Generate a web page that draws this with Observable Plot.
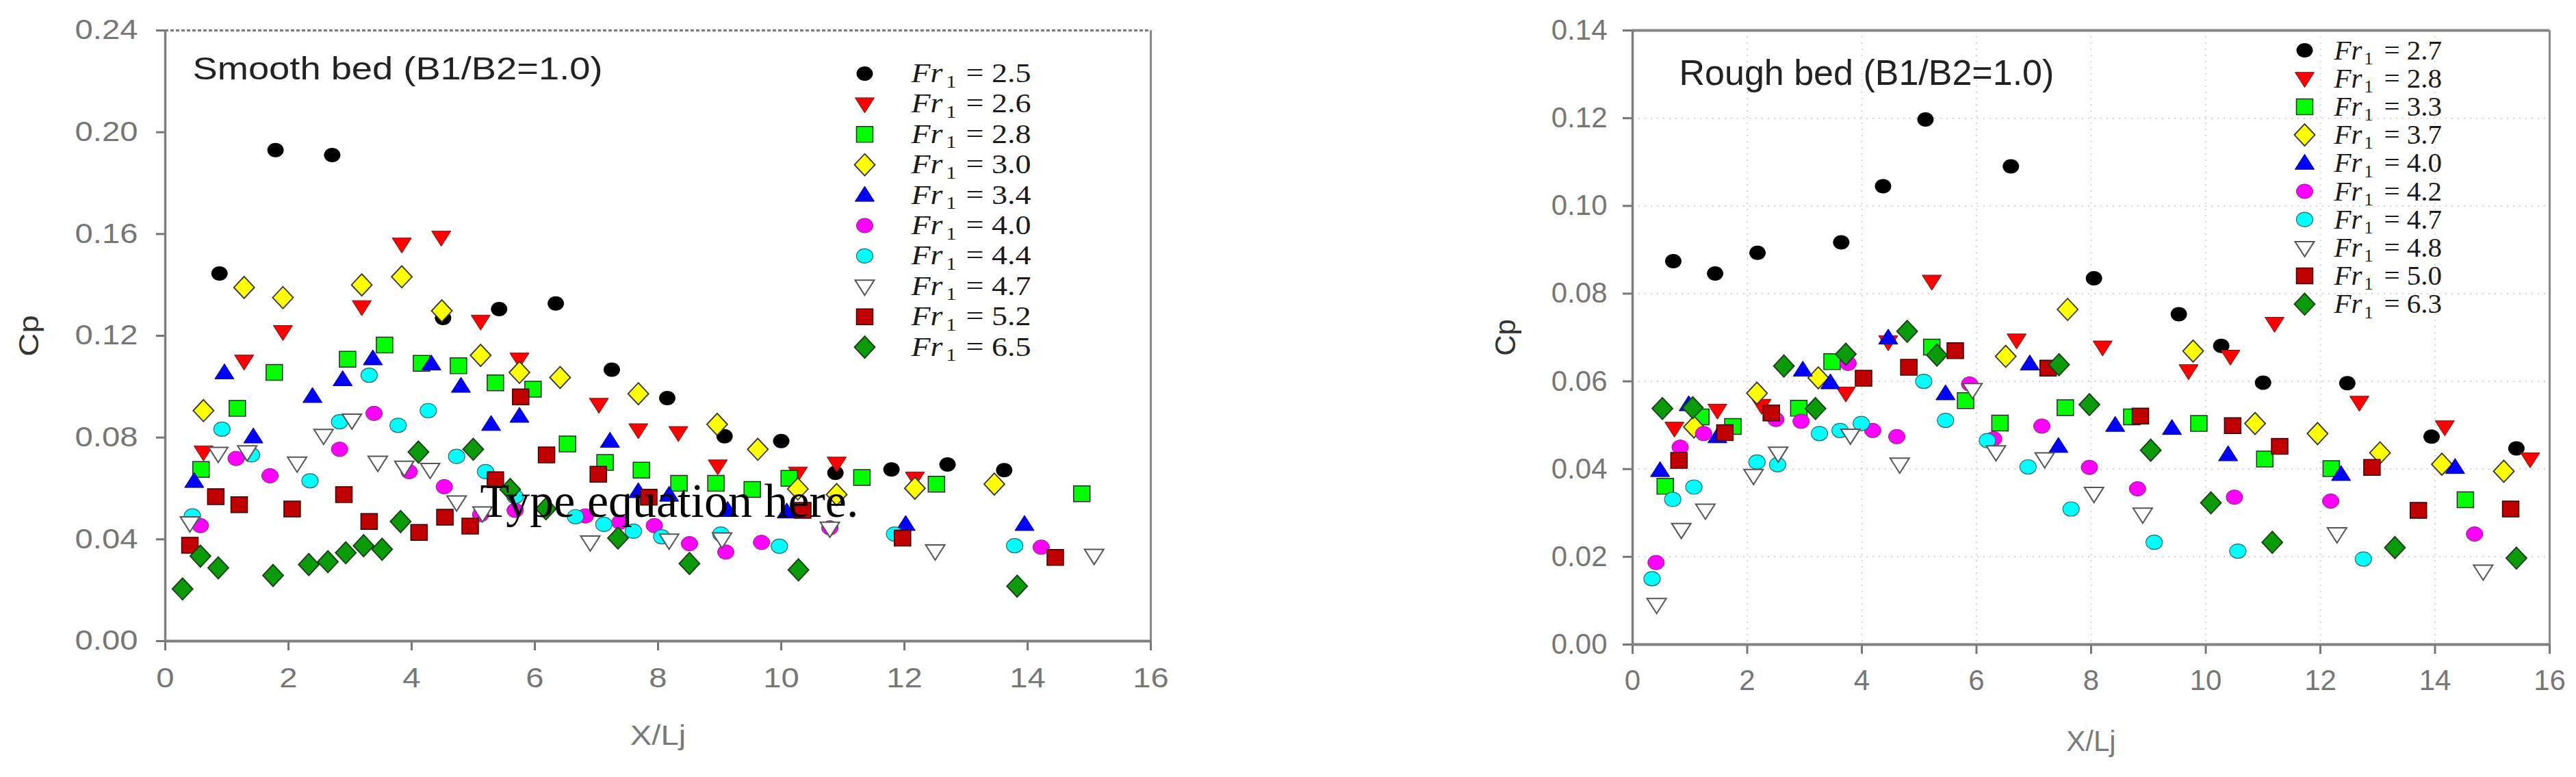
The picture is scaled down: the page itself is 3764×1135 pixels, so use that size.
<!DOCTYPE html>
<html><head><meta charset="utf-8">
<script src="https://cdn.jsdelivr.net/npm/d3@7"></script>
<script src="https://cdn.jsdelivr.net/npm/@observablehq/plot@0.6"></script>
<style>
html,body{margin:0;padding:0;background:#fff;}
body{width:3764px;height:1135px;position:relative;overflow:hidden;}
#left{position:absolute;left:0;top:0;}
#right{position:absolute;left:2000px;top:0;}
</style></head>
<body><div id="left"></div><div id="right"></div>
<script>
// ---------- data ----------
const xTicks = [0, 2, 4, 6, 8, 10, 12, 14, 16];
const smoothYTicks = [0, 0.04, 0.08, 0.12, 0.16, 0.20, 0.24];
const roughYTicks = [0, 0.02, 0.04, 0.06, 0.08, 0.10, 0.12, 0.14];

const smoothTitle = "Smooth bed (B1/B2=1.0)";
const roughTitle = "Rough bed (B1/B2=1.0)";
const xLabel = "X/Lj";
const yLabel = "Cp";
const stray = "Type equation here.";

const smoothFr = ["2.5", "2.6", "2.8", "3.0", "3.4", "4.0", "4.4", "4.7", "5.2", "6.5"];
const roughFr = ["2.7", "2.8", "3.3", "3.7", "4.0", "4.2", "4.7", "4.8", "5.0", "6.3"];

const s25 = [[0.88,0.1445],[1.79,0.193],[2.71,0.191],[4.51,0.127],[5.42,0.1305],[6.34,0.1327],[7.25,0.1067],[8.15,0.0955],[9.08,0.0805],[10.0,0.0786],[10.88,0.0661],[11.79,0.0675],[12.7,0.0694],[13.62,0.0672]];
const s26 = [[0.62,0.0743],[1.28,0.110],[1.91,0.1216],[3.19,0.1314],[3.84,0.156],[4.48,0.1587],[5.12,0.1257],[5.75,0.1108],[7.04,0.093],[7.68,0.083],[8.33,0.0819],[8.97,0.0688],[10.27,0.066],[10.9,0.0699],[12.17,0.064]];
const s28 = [[0.58,0.0675],[1.17,0.0915],[1.77,0.1056],[2.96,0.1108],[3.56,0.1164],[4.16,0.1092],[4.76,0.1082],[5.36,0.1015],[5.97,0.099],[6.53,0.0775],[7.14,0.0702],[7.73,0.0672],[8.34,0.062],[8.94,0.062],[9.53,0.0596],[10.13,0.064],[11.31,0.0643],[12.52,0.0617],[14.88,0.0579]];
const s30 = [[0.62,0.0906],[1.28,0.139],[1.91,0.135],[3.19,0.140],[3.84,0.1432],[4.49,0.1298],[5.12,0.1123],[5.75,0.1056],[6.41,0.1036],[7.68,0.0972],[8.96,0.0852],[9.62,0.0754],[10.27,0.0598],[10.9,0.0576],[12.17,0.0601],[13.46,0.0617]];
const s34 = [[0.47,0.0628],[0.96,0.1055],[1.43,0.0803],[2.39,0.0962],[2.88,0.1028],[3.37,0.111],[4.32,0.109],[4.8,0.1002],[5.29,0.0852],[5.75,0.0884],[7.22,0.0786],[7.68,0.0588],[8.18,0.0574],[9.13,0.0514],[10.09,0.0508],[12.02,0.0459],[13.95,0.0459]];
const s40 = [[0.57,0.0454],[1.15,0.0718],[1.7,0.065],[2.83,0.0754],[3.39,0.0895],[3.96,0.0666],[4.53,0.0607],[5.12,0.0497],[5.68,0.0514],[6.82,0.0492],[7.38,0.0467],[7.94,0.0454],[8.51,0.0383],[9.1,0.035],[9.68,0.0388],[10.79,0.0445],[14.22,0.0369]];
const s44 = [[0.44,0.0492],[0.92,0.0833],[1.4,0.0732],[2.35,0.063],[2.83,0.0862],[3.31,0.1045],[3.78,0.0848],[4.27,0.0906],[4.73,0.0726],[5.2,0.0666],[5.68,0.0568],[6.66,0.0489],[7.12,0.0459],[7.6,0.0432],[8.06,0.041],[9.02,0.0421],[9.97,0.0373],[11.84,0.0421],[13.79,0.0375]];
const s47 = [[0.4,0.0464],[0.86,0.0737],[1.33,0.0743],[2.14,0.0699],[2.57,0.0808],[3.03,0.0868],[3.45,0.0702],[3.88,0.0683],[4.3,0.0674],[4.73,0.0546],[5.15,0.0503],[6.9,0.0389],[8.18,0.0396],[9.04,0.0401],[10.79,0.0443],[12.5,0.0354],[15.08,0.0336]];
const s52 = [[0.4,0.0377],[0.82,0.0568],[1.2,0.0536],[2.06,0.0519],[2.9,0.0576],[3.31,0.047],[4.12,0.0427],[4.54,0.0487],[4.95,0.0452],[5.36,0.0634],[5.77,0.096],[6.19,0.0732],[7.03,0.0656],[7.85,0.0566],[10.35,0.0514],[11.97,0.0405],[14.45,0.0329]];
const s65 = [[0.28,0.0205],[0.57,0.0334],[0.86,0.0288],[1.75,0.0258],[2.33,0.0301],[2.64,0.0312],[2.93,0.0347],[3.22,0.0375],[3.52,0.0361],[3.82,0.047],[4.11,0.0743],[5.0,0.0754],[5.6,0.0596],[6.18,0.052],[7.35,0.0405],[8.51,0.0305],[10.28,0.028],[13.83,0.0216]];

const r27 = [[0.71,0.0874],[1.44,0.0846],[2.18,0.0893],[3.64,0.0917],[4.37,0.1045],[5.11,0.1197],[6.6,0.109],[8.05,0.0835],[9.53,0.0753],[10.27,0.0681],[11.0,0.0597],[12.47,0.0596],[13.94,0.0474],[15.42,0.0447]];
const r28 = [[0.73,0.0493],[1.48,0.0534],[2.25,0.0545],[3.72,0.0573],[4.46,0.069],[5.22,0.0828],[6.7,0.0694],[8.2,0.0678],[9.7,0.0624],[10.43,0.0657],[11.2,0.0732],[12.68,0.0552],[14.17,0.0496],[15.66,0.0423]];
const r33 = [[0.57,0.0361],[1.19,0.0519],[1.75,0.0497],[2.9,0.0539],[3.48,0.0645],[5.22,0.0678],[5.81,0.0556],[6.41,0.0505],[7.55,0.054],[8.71,0.0519],[9.88,0.0504],[11.03,0.0423],[12.19,0.0401],[14.53,0.033]];
const r37 = [[1.07,0.0496],[2.17,0.0573],[3.24,0.0608],[6.51,0.0657],[7.59,0.0764],[9.78,0.0669],[10.86,0.0504],[11.95,0.0481],[13.04,0.0437],[14.12,0.0411],[15.2,0.0395]];
const r40 = [[0.48,0.0397],[0.98,0.0547],[1.48,0.0474],[2.97,0.0626],[3.45,0.0597],[4.46,0.0699],[5.46,0.0572],[6.93,0.064],[7.43,0.0452],[8.42,0.05],[9.41,0.0493],[10.39,0.0433],[12.36,0.0388],[14.35,0.0404]];
const r42 = [[0.41,0.0187],[0.83,0.045],[1.24,0.0481],[2.5,0.0513],[2.94,0.0509],[3.76,0.0641],[4.19,0.0488],[4.61,0.0474],[5.88,0.0594],[6.3,0.0469],[7.14,0.0498],[7.97,0.0404],[8.81,0.0355],[10.5,0.0336],[12.18,0.0327],[14.69,0.0252]];
const r47 = [[0.34,0.015],[0.7,0.0331],[1.07,0.0359],[2.17,0.0416],[2.53,0.041],[3.26,0.0481],[3.62,0.0488],[3.99,0.0504],[5.08,0.06],[5.46,0.0511],[6.19,0.0465],[6.9,0.0405],[7.65,0.0309],[9.1,0.0233],[10.56,0.0213],[12.75,0.0195]];
const r48 = [[0.42,0.0091],[0.85,0.0262],[1.27,0.0306],[2.11,0.0385],[2.54,0.0436],[3.8,0.0477],[4.66,0.0411],[5.93,0.0581],[6.34,0.0439],[7.19,0.0423],[8.05,0.0344],[8.9,0.0297],[12.29,0.0252],[14.84,0.0167]];
const r50 = [[0.81,0.042],[1.61,0.0483],[2.42,0.0528],[4.03,0.0607],[4.82,0.0632],[5.63,0.067],[7.25,0.063],[8.86,0.0521],[10.47,0.0499],[11.29,0.0452],[12.9,0.0404],[13.71,0.0306],[15.32,0.0309]];
const r63 = [[0.52,0.0538],[1.05,0.054],[2.64,0.0635],[3.19,0.0538],[3.72,0.0662],[4.79,0.0714],[5.31,0.066],[7.44,0.0638],[7.97,0.0547],[9.04,0.0443],[10.09,0.0323],[11.16,0.0233],[13.3,0.0221],[15.42,0.0197]];

const smoothSeries = [s25, s26, s28, s30, s34, s40, s44, s47, s52, s65];
const roughSeries = [r27, r28, r33, r37, r40, r42, r47, r48, r50, r63];

// ---------- marker shapes ----------
function ellipse(rx, ry) {
  return {draw(c) {
    const kx = rx * 0.5523, ky = ry * 0.5523;
    c.moveTo(rx, 0);
    c.bezierCurveTo(rx, ky, kx, ry, 0, ry);
    c.bezierCurveTo(-kx, ry, -rx, ky, -rx, 0);
    c.bezierCurveTo(-rx, -ky, -kx, -ry, 0, -ry);
    c.bezierCurveTo(kx, -ry, rx, -ky, rx, 0);
    c.closePath();
  }};
}
function poly(pts) {
  return {draw(c) {
    c.moveTo(pts[0][0], pts[0][1]);
    for (let i = 1; i < pts.length; i++) c.lineTo(pts[i][0], pts[i][1]);
    c.closePath();
  }};
}
function shapes(k) {
  return {
    circle: ellipse(12 * k, 10.5),
    square: poly([[-12 * k, -11.5], [12 * k, -11.5], [12 * k, 11.5], [-12 * k, 11.5]]),
    up: poly([[0, -13], [14 * k, 9], [-14 * k, 9]]),
    down: poly([[0, 13], [14 * k, -9], [-14 * k, -9]]),
    diamond: poly([[0, -16], [15 * k, 0], [0, 16], [-15 * k, 0]])
  };
}
function styleSet(sh) {
  return [
    {symbol: sh.circle, fill: "#000000", stroke: "none", sw: 0},
    {symbol: sh.down, fill: "#ff0000", stroke: "#7a1010", sw: 1},
    {symbol: sh.square, fill: "#00ff00", stroke: "#2a2a2a", sw: 1.5},
    {symbol: sh.diamond, fill: "#ffff00", stroke: "#333333", sw: 1.8},
    {symbol: sh.up, fill: "#0000ff", stroke: "#000080", sw: 1},
    {symbol: sh.circle, fill: "#ff00ff", stroke: "#7a207a", sw: 1},
    {symbol: sh.circle, fill: "#00ffff", stroke: "#2a6a6a", sw: 1.2},
    {symbol: sh.down, fill: "#ffffff", stroke: "#555555", sw: 2},
    {symbol: sh.square, fill: "#c00000", stroke: "#3a0000", sw: 1.5},
    {symbol: sh.diamond, fill: "#0a9a0a", stroke: "#1a3a1a", sw: 1.8}
  ];
}

const SANS = "'Liberation Sans', Arial, sans-serif";
const SERIF = "'Liberation Serif', 'Times New Roman', serif";

function buildPanel(cfg) {
  const st = styleSet(shapes(1));
  const marks = [];
  if (cfg.grid) {
    marks.push(Plot.gridY({ticks: cfg.yTicks.slice(1, -1), stroke: "#c8c8c8", strokeOpacity: 1, strokeDasharray: "2,7", strokeWidth: 1.5}));
    marks.push(Plot.gridX({ticks: xTicks.slice(1, -1), stroke: "#c8c8c8", strokeOpacity: 1, strokeDasharray: "2,7", strokeWidth: 1.5}));
  }
  marks.push(Plot.axisY({ticks: cfg.yTicks, tickFormat: d3.format(".2f"), tickSize: cfg.tickSize, tickPadding: cfg.yPad, label: null, color: "#767676", strokeWidth: 3, fontSize: cfg.tickFont}));
  marks.push(Plot.axisX({ticks: xTicks, tickFormat: d3.format("d"), tickSize: 14, tickPadding: cfg.xPad, label: null, color: "#767676", strokeWidth: 3, fontSize: cfg.tickFont}));
  // frame
  marks.push(Plot.ruleY([cfg.yTicks[cfg.yTicks.length - 1]], cfg.topDotted
    ? {stroke: "#7a7a7a", strokeWidth: 3, strokeDasharray: "5,3"}
    : {stroke: "#858585", strokeWidth: 4}));
  marks.push(Plot.ruleX([16], {stroke: "#8a8a8a", strokeWidth: 3}));
  marks.push(Plot.ruleX([0], {stroke: "#808080", strokeWidth: 3.5}));
  marks.push(Plot.ruleY([0], {stroke: "#808080", strokeWidth: 4}));
  // data
  cfg.series.forEach((data, i) => {
    marks.push(Plot.dot(data, {x: d => d[0], y: d => d[1], symbol: st[i].symbol, fill: st[i].fill, stroke: st[i].stroke, strokeWidth: st[i].sw}));
  });
  // stray text (left only)
  if (cfg.stray) {
    marks.push(Plot.text([cfg.stray], {text: d => d, frameAnchor: "top-left", dx: 460, dy: 688, textAnchor: "start", lineAnchor: "middle", fontFamily: SERIF, fontSize: 70, fill: "#000"}));
  }
  // legend
  const L = cfg.legend;
  cfg.labels.forEach((fr, i) => {
    const dy = L.row0 + i * L.step;
    marks.push(Plot.dot([fr], {frameAnchor: "top-left", dx: L.symX, dy, symbol: st[i].symbol, fill: st[i].fill, stroke: st[i].stroke, strokeWidth: st[i].sw}));
    marks.push(Plot.text([fr], {text: () => "Fr", frameAnchor: "top-left", dx: L.frX, dy, textAnchor: "start", lineAnchor: "middle", fontFamily: SERIF, fontStyle: "italic", fontSize: L.font, fill: "#1a1a1a"}));
    marks.push(Plot.text([fr], {text: () => "1", frameAnchor: "top-left", dx: L.subX, dy: dy + L.subDy, textAnchor: "start", lineAnchor: "middle", fontFamily: SERIF, fontSize: L.subFont, fill: "#1a1a1a"}));
    marks.push(Plot.text([fr], {text: d => "= " + d, frameAnchor: "top-left", dx: L.eqX, dy, textAnchor: "start", lineAnchor: "middle", fontFamily: SERIF, fontSize: L.font, fill: "#1a1a1a"}));
  });
  // title and axis labels
  marks.push(Plot.text([cfg.title], {text: d => d, frameAnchor: "top-left", dx: cfg.titleX, dy: cfg.titleY, textAnchor: "start", lineAnchor: "middle", fontFamily: SANS, fontSize: cfg.titleFont, fill: "#222"}));
  marks.push(Plot.text([xLabel], {text: d => d, frameAnchor: "bottom", dy: cfg.xLabDy, textAnchor: "middle", lineAnchor: "middle", fontFamily: SANS, fontSize: cfg.tickFont, fill: "#7a7a7a"}));
  marks.push(Plot.text([yLabel], {text: d => d, frameAnchor: "left", dx: cfg.yLabDx, rotate: -90, textAnchor: "middle", lineAnchor: "middle", fontFamily: SANS, fontSize: cfg.tickFont, fill: "#333"}));

  return Plot.plot({
    width: cfg.width, height: 1135,
    marginLeft: cfg.ml, marginRight: cfg.mr, marginTop: 44, marginBottom: cfg.mb,
    x: {domain: [0, 16]},
    y: {domain: [0, cfg.yTicks[cfg.yTicks.length - 1]]},
    style: {fontFamily: SANS, fontSize: cfg.tickFont + "px", background: "transparent", overflow: "visible"},
    marks
  });
}

function stretchText(svg, f) {
  if (f === 1) return;
  svg.querySelectorAll("text").forEach(t => {
    if (t.textContent.startsWith("Type")) return;
    const w = t.getComputedTextLength();
    if (w > 0) {
      t.setAttribute("textLength", (w * f).toFixed(1));
      t.setAttribute("lengthAdjust", "spacingAndGlyphs");
    }
  });
}

const left = buildPanel({
  width: 1800, ml: 241, mr: 119, mb: 199,
  yTicks: smoothYTicks, series: smoothSeries, labels: smoothFr,
  tickSize: 13, yPad: 27, xPad: 25, tickFont: 40,
  topDotted: true, grid: false, stray,
  title: smoothTitle, titleX: 40, titleY: 57, titleFont: 46,
  xLabDy: 139, yLabDx: -198,
  legend: {symX: 1022, frX: 1090, subX: 1141, subDy: 12, eqX: 1170, row0: 63, step: 44.4, font: 39, subFont: 25}
});
document.getElementById("left").appendChild(left);
stretchText(left, 1.18);

const right = buildPanel({
  width: 1764, ml: 385, mr: 39, mb: 194,
  yTicks: roughYTicks, series: roughSeries, labels: roughFr,
  tickSize: 14, yPad: 23, xPad: 23, tickFont: 42,
  topDotted: false, grid: true, stray: null,
  title: roughTitle, titleX: 68, titleY: 63, titleFont: 52,
  xLabDy: 142, yLabDx: -185,
  legend: {symX: 982, frX: 1025, subX: 1069, subDy: 12, eqX: 1098, row0: 29, step: 41.2, font: 41, subFont: 26}
});
document.getElementById("right").appendChild(right);
</script>
</body></html>
